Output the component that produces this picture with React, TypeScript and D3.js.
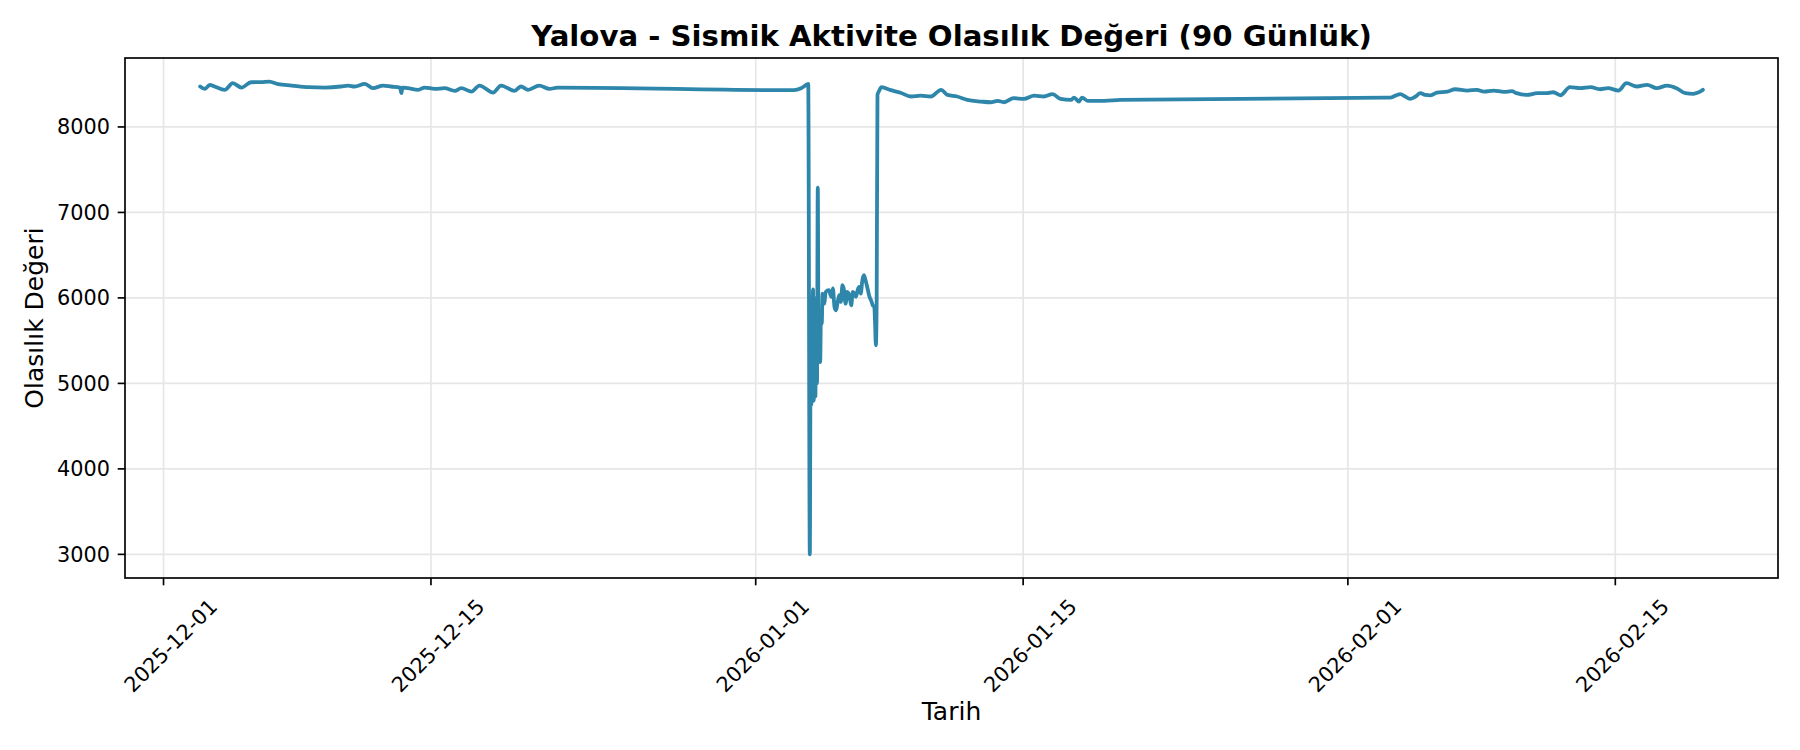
import React from "react";
import * as d3 from "d3";

const TITLE = "Yalova - Sismik Aktivite Olasılık Değeri (90 Günlük)";
const X_LABEL = "Tarih";
const Y_LABEL = "Olasılık Değeri";

const timestamps: string[] = [
  "2025-12-02 22:00", "2025-12-03 04:00", "2025-12-03 10:00", "2025-12-03 16:00", "2025-12-04 05:00",
  "2025-12-04 15:00", "2025-12-05 02:00", "2025-12-05 14:00", "2025-12-06 03:00", "2025-12-06 13:00",
  "2025-12-07 00:00", "2025-12-07 17:00", "2025-12-08 14:00", "2025-12-09 11:00", "2025-12-10 07:00",
  "2025-12-10 16:00", "2025-12-11 00:00", "2025-12-11 13:00", "2025-12-11 23:00", "2025-12-12 12:00",
  "2025-12-12 22:00", "2025-12-13 09:00", "2025-12-13 11:00", "2025-12-13 12:00", "2025-12-13 19:00",
  "2025-12-14 08:00", "2025-12-14 16:00", "2025-12-15 05:00", "2025-12-15 17:00", "2025-12-16 06:00",
  "2025-12-16 14:00", "2025-12-17 03:00", "2025-12-17 13:00", "2025-12-18 06:00", "2025-12-18 16:00",
  "2025-12-19 09:00", "2025-12-19 17:00", "2025-12-20 02:00", "2025-12-20 16:00", "2025-12-21 05:00",
  "2025-12-21 15:00",
  "2026-01-03 00:00", "2026-01-03 09:00", "2026-01-03 17:00", "2026-01-03 18:00", "2026-01-03 20:00",
  "2026-01-03 21:00", "2026-01-03 22:00", "2026-01-03 23:00", "2026-01-04 00:00", "2026-01-04 01:00",
  "2026-01-04 02:00", "2026-01-04 03:00", "2026-01-04 04:00", "2026-01-04 05:00", "2026-01-04 06:00",
  "2026-01-04 07:00", "2026-01-04 08:00", "2026-01-04 09:00", "2026-01-04 10:00", "2026-01-04 11:00",
  "2026-01-04 12:00", "2026-01-04 14:00", "2026-01-04 16:00", "2026-01-04 20:00", "2026-01-04 23:00",
  "2026-01-05 01:00", "2026-01-05 03:00", "2026-01-05 05:00", "2026-01-05 07:00", "2026-01-05 09:00",
  "2026-01-05 11:00", "2026-01-05 13:00", "2026-01-05 15:00", "2026-01-05 17:00", "2026-01-05 19:00",
  "2026-01-05 22:00", "2026-01-06 00:00", "2026-01-06 02:00", "2026-01-06 04:00", "2026-01-06 06:00",
  "2026-01-06 08:00", "2026-01-06 10:00", "2026-01-06 12:00", "2026-01-06 14:00", "2026-01-06 16:00",
  "2026-01-06 18:00", "2026-01-06 21:00", "2026-01-06 23:00", "2026-01-07 01:00", "2026-01-07 03:00",
  "2026-01-07 05:00", "2026-01-07 06:00", "2026-01-07 07:00", "2026-01-07 08:00", "2026-01-07 09:00",
  "2026-01-07 11:00", "2026-01-07 14:00", "2026-01-08 02:00", "2026-01-08 14:00", "2026-01-09 03:00",
  "2026-01-09 15:00", "2026-01-10 04:00", "2026-01-10 17:00", "2026-01-11 01:00", "2026-01-11 13:00",
  "2026-01-12 02:00", "2026-01-12 19:00", "2026-01-13 07:00", "2026-01-13 16:00", "2026-01-14 00:00",
  "2026-01-14 12:00", "2026-01-15 01:00", "2026-01-15 14:00", "2026-01-16 02:00", "2026-01-16 13:00",
  "2026-01-16 23:00", "2026-01-17 12:00", "2026-01-17 16:00", "2026-01-17 22:00", "2026-01-18 02:00",
  "2026-01-18 09:00", "2026-01-19 06:00", "2026-01-20 02:00",
  "2026-02-02 23:00", "2026-02-03 05:00", "2026-02-03 12:00", "2026-02-03 18:00", "2026-02-04 00:00",
  "2026-02-04 06:00", "2026-02-04 13:00", "2026-02-04 19:00", "2026-02-05 01:00", "2026-02-05 08:00",
  "2026-02-05 16:00", "2026-02-06 05:00", "2026-02-06 15:00", "2026-02-07 06:00", "2026-02-07 18:00",
  "2026-02-08 03:00", "2026-02-08 15:00", "2026-02-09 04:00", "2026-02-09 14:00", "2026-02-09 20:00",
  "2026-02-10 09:00", "2026-02-10 22:00", "2026-02-11 10:00", "2026-02-11 18:00", "2026-02-12 03:00",
  "2026-02-12 15:00", "2026-02-13 04:00", "2026-02-13 17:00", "2026-02-14 05:00", "2026-02-14 15:00",
  "2026-02-15 04:00", "2026-02-15 14:00", "2026-02-16 03:00", "2026-02-16 16:00", "2026-02-17 04:00",
  "2026-02-17 17:00", "2026-02-18 05:00", "2026-02-18 16:00", "2026-02-19 02:00", "2026-02-19 08:00",
  "2026-02-19 14:00",
];

const values: number[] = [
  8473, 8445, 8492, 8473, 8434,
  8512, 8461, 8523, 8525, 8530,
  8500, 8484, 8465, 8461, 8473,
  8484, 8473, 8504, 8453, 8484,
  8473, 8461, 8395, 8461, 8453,
  8434, 8461, 8445, 8453, 8422,
  8453, 8414, 8484, 8402, 8484,
  8422, 8473, 8434, 8484, 8445,
  8461,
  8430, 8453, 8500, 8504, 3000,
  5400, 4750, 5450, 6100, 4800,
  5650, 4850, 6000, 5000, 7290,
  5300, 5700, 5250, 5800, 5700,
  6051, 5933, 6070, 6090, 6012,
  6110, 5894, 5855, 5953, 6031,
  5953, 6149, 6090, 5933, 6070,
  6012, 5914, 6070, 6051, 6012,
  6090, 6129, 6051, 6207, 6266,
  6207, 6090, 6012, 5972, 5914,
  5894, 5700, 5445, 6000, 8375,
  8420, 8465, 8430, 8400, 8356,
  8367, 8356, 8434, 8375, 8356,
  8316, 8297, 8289, 8305, 8289,
  8336, 8328, 8367, 8356, 8383,
  8328, 8316, 8344, 8297, 8344,
  8305, 8305, 8316,
  8344, 8344, 8367, 8383, 8356,
  8328, 8356, 8395, 8375, 8370,
  8402, 8414, 8441, 8426, 8434,
  8414, 8426, 8410, 8418, 8395,
  8375, 8395, 8395, 8406, 8371,
  8465, 8453, 8465, 8441, 8453,
  8426, 8512, 8473, 8492, 8453,
  8484, 8453, 8395, 8387, 8402,
  8434,
];

const xTickLabels: string[] = ["2025-12-01", "2025-12-15", "2026-01-01", "2026-01-15", "2026-02-01", "2026-02-15"];
const yTickValues: number[] = [3000, 4000, 5000, 6000, 7000, 8000];

const W = 1800;
const H = 750;
const M = { left: 125, right: 1778, top: 58, bottom: 578 };
const FONT = "'DejaVu Sans', sans-serif";

export default function App() {
  const parse = d3.utcParse("%Y-%m-%d %H:%M");
  const parseDay = d3.utcParse("%Y-%m-%d");
  const data = timestamps.map((t, i) => ({ t: parse(t) as Date, v: values[i] }));

  const [t0, t1] = d3.extent(data, (d) => d.t.getTime()) as [number, number];
  const tPad = (t1 - t0) * 0.05;
  const [v0, v1] = d3.extent(data, (d) => d.v) as [number, number];
  const vPad = (v1 - v0) * 0.05;

  const x = d3.scaleUtc().domain([new Date(t0 - tPad), new Date(t1 + tPad)]).range([M.left, M.right]);
  const y = d3.scaleLinear().domain([v0 - vPad, v1 + vPad]).range([M.bottom, M.top]);

  const line = d3
    .line<{ t: Date; v: number }>()
    .x((d) => x(d.t))
    .y((d) => y(d.v))
    .curve(d3.curveMonotoneX);

  const xTicks = xTickLabels.map((s) => ({ s, px: x(parseDay(s) as Date) }));
  const gridColor = "#e6e6e6";
  const tickLen = 7.3;

  return (
    <svg
      width={W}
      height={H}
      style={{ position: "absolute", left: 0, top: 0, background: "#fff" }}
      fontFamily={FONT}
    >
      <rect x={0} y={0} width={W} height={H} fill="#fff" />
      {xTicks.map((d) => (
        <line key={"gx" + d.s} x1={d.px} x2={d.px} y1={M.top} y2={M.bottom} stroke={gridColor} strokeWidth={1.67} />
      ))}
      {yTickValues.map((v) => (
        <line key={"gy" + v} x1={M.left} x2={M.right} y1={y(v)} y2={y(v)} stroke={gridColor} strokeWidth={1.67} />
      ))}
      <path
        d={line(data) || ""}
        fill="none"
        stroke="#2E86AB"
        strokeWidth={3.8}
        strokeLinejoin="round"
        strokeLinecap="round"
      />
      <rect
        x={M.left}
        y={M.top}
        width={M.right - M.left}
        height={M.bottom - M.top}
        fill="none"
        stroke="#000"
        strokeWidth={1.67}
      />
      {yTickValues.map((v) => (
        <g key={"yt" + v}>
          <line x1={M.left - tickLen} x2={M.left} y1={y(v)} y2={y(v)} stroke="#000" strokeWidth={1.67} />
          <text x={M.left - 15} y={y(v)} dy="0.36em" textAnchor="end" fontSize={20.8} fill="#000">
            {v}
          </text>
        </g>
      ))}
      {xTicks.map((d) => (
        <g key={"xt" + d.s}>
          <line x1={d.px} x2={d.px} y1={M.bottom} y2={M.bottom + tickLen} stroke="#000" strokeWidth={1.67} />
          <text
            transform={`translate(${d.px + 55},${M.bottom + 30}) rotate(-45)`}
            textAnchor="end"
            fontSize={20.8}
            fill="#000"
          >
            {d.s}
          </text>
        </g>
      ))}
      <text x={(M.left + M.right) / 2} y={46} textAnchor="middle" fontSize={29.2} fontWeight="bold" fill="#000">
        {TITLE}
      </text>
      <text x={(M.left + M.right) / 2} y={720} textAnchor="middle" fontSize={25} fill="#000">
        {X_LABEL}
      </text>
      <text
        transform={`translate(43,${(M.top + M.bottom) / 2}) rotate(-90)`}
        textAnchor="middle"
        fontSize={25}
        fill="#000"
      >
        {Y_LABEL}
      </text>
    </svg>
  );
}
